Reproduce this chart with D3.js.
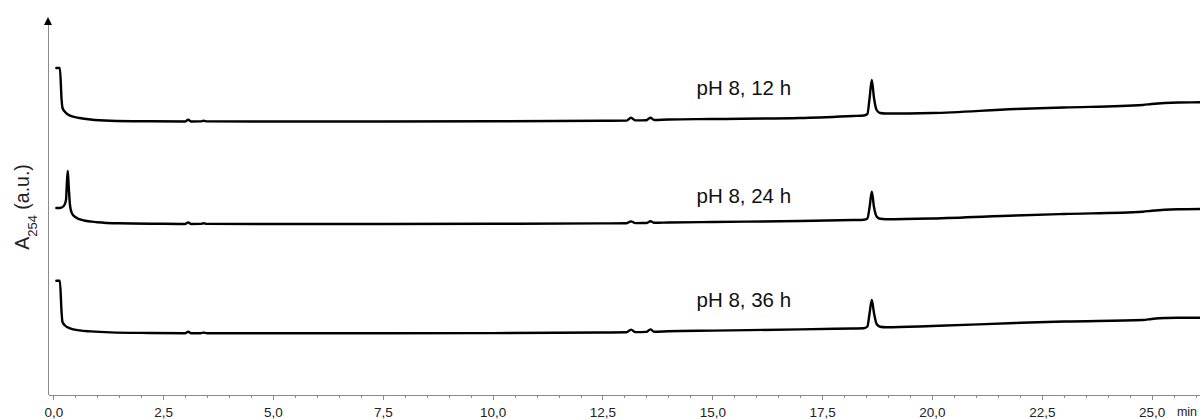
<!DOCTYPE html>
<meta charset="utf-8">
<style>
body { margin: 0; background: #fff; }
svg { font-family: "Liberation Sans", Arial, sans-serif; }
.trace { fill: none; stroke: #000; stroke-width: 2.4px; stroke-linejoin: round; stroke-linecap: round; }
.axis path, .axis line { stroke: #8a8a8a; stroke-width: 1px; shape-rendering: crispEdges; }
.axis text { fill: #222; font-size: 13.5px; }
</style>
<div id="chart"></div>
<script src="https://d3js.org/d3.v7.min.js"></script>
<script>

// retention time (min) and absorbance (a.u., arbitrary units) for each run
var t12 = [0.07, 0.15, 0.19, 0.21, 0.28, 0.38, 0.6, 0.85, 1.3, 2.2, 3.0, 3.07, 3.14, 3.35, 3.42, 3.5, 5.0, 7.5, 10.0, 12.5, 13.05, 13.15, 13.25, 13.5, 13.59, 13.68, 14.0, 15.0, 17.0, 18.2, 18.45, 18.53, 18.58, 18.63, 18.68, 18.74, 18.82, 18.95, 20.0, 21.9, 23.0, 24.8, 25.0, 25.3, 25.6, 26.1];
var a12 = [55, 55, 23, 15, 10.5, 7.3, 5, 3.5, 2.3, 1.7, 1.5, 3.3, 1.5, 1.6, 2.3, 1.6, 1.5, 1.5, 1.7, 2.2, 2.4, 5.2, 2.6, 2.8, 5.3, 3.0, 3.5, 4.0, 5.0, 7.0, 7.5, 9, 25, 43, 25, 13, 10, 9.5, 10, 14, 15.5, 18, 19, 20, 20.5, 20.7];

var t24 = [0.07, 0.15, 0.24, 0.29, 0.31, 0.33, 0.35, 0.38, 0.42, 0.5, 0.7, 1.0, 1.5, 2.5, 3.0, 3.07, 3.14, 3.35, 3.42, 3.5, 5.0, 7.5, 10.0, 12.5, 13.05, 13.15, 13.25, 13.5, 13.59, 13.68, 14.0, 15.0, 17.0, 18.2, 18.45, 18.53, 18.58, 18.63, 18.68, 18.74, 18.82, 18.95, 20.0, 21.9, 23.0, 24.8, 25.0, 25.3, 25.6, 26.1];
var a24 = [17, 17, 19, 25, 42, 54, 40, 20, 12, 8, 4.5, 2.8, 1.7, 1.2, 1.0, 2.6, 1.0, 1.1, 1.8, 1.1, 1.0, 1.0, 1.2, 1.6, 1.8, 3.6, 1.9, 2.0, 3.7, 2.2, 2.5, 3.0, 4.0, 5.0, 5.3, 6.5, 18, 33.3, 18, 8.5, 6.2, 5.8, 6.5, 9.5, 11, 13.3, 14.2, 15.2, 15.7, 16];

var t36 = [0.07, 0.15, 0.19, 0.21, 0.28, 0.38, 0.6, 0.85, 1.3, 2.2, 3.0, 3.07, 3.14, 3.35, 3.42, 3.5, 5.0, 7.5, 10.0, 12.5, 13.05, 13.15, 13.25, 13.5, 13.59, 13.68, 14.0, 15.0, 17.0, 18.2, 18.45, 18.53, 18.58, 18.63, 18.68, 18.74, 18.82, 18.95, 20.0, 21.9, 23.0, 24.8, 25.0, 25.3, 25.6, 26.1];
var a36 = [54.3, 54.3, 22, 13, 9, 6.7, 4.6, 3.6, 2.6, 2.0, 1.7, 3.3, 1.7, 1.8, 2.4, 1.8, 1.7, 1.7, 1.9, 2.5, 2.7, 5.4, 2.9, 3.1, 5.6, 3.3, 3.8, 4.4, 5.6, 6.5, 6.7, 8.5, 22, 35, 22, 11, 8.3, 7.8, 9, 12, 13.5, 15, 16, 17, 17.2, 17.3];

// vertical stacking offset of each chromatogram and its label
var runs = ["pH 8, 12 h", "pH 8, 24 h", "pH 8, 36 h"];
var offsets = [272, 170, 60];
var labelTime = 14.64;
var labelLift = [28, 22, 28];

var xTicks = d3.range(0, 25.01, 2.5);
var xMinor = d3.range(0, 26.01, 0.5);

var width = 1200, height = 419;

var x = d3.scaleLinear().domain([-0.12, 26.1]).range([48, 1200]);
var y = d3.scaleLinear().domain([0, 378]).range([395, 17]);

var svg = d3.select("#chart").append("svg")
  .attr("width", width)
  .attr("height", height);

var comma = d3.formatLocale({decimal: ",", thousands: ".", grouping: [3], currency: ["", ""]}).format(".1f");

// minor ticks
svg.append("g")
  .attr("class", "x axis")
  .attr("transform", "translate(0," + y(0) + ")")
  .call(d3.axisBottom(x).tickValues(xMinor).tickSize(3).tickFormat(""))
  .call(function(g) { g.select(".domain").remove(); });

// major ticks + axis line
svg.append("g")
  .attr("class", "x axis")
  .attr("transform", "translate(0," + y(0) + ")")
  .call(d3.axisBottom(x).tickValues(xTicks).tickSize(5).tickSizeOuter(0).tickPadding(7).tickFormat(comma));

svg.append("text")
  .attr("x", 1187)
  .attr("y", 416)
  .attr("text-anchor", "middle")
  .style("font-size", "12.5px")
  .style("fill", "#222")
  .text("min");

// y axis with arrow
svg.append("line")
  .attr("x1", x(-0.12)).attr("x2", x(-0.12))
  .attr("y1", y(0)).attr("y2", y(370))
  .attr("stroke", "#8a8a8a")
  .attr("shape-rendering", "crispEdges");

svg.append("path")
  .attr("d", "M" + (x(-0.12) - 4) + "," + y(370) + "L" + x(-0.12) + "," + y(378) + "L" + (x(-0.12) + 4) + "," + y(370) + "Z")
  .attr("fill", "#000");

var ylab = svg.append("text")
  .attr("transform", "translate(29,207) rotate(-90)")
  .attr("text-anchor", "middle")
  .style("font-size", "19.5px")
  .style("fill", "#222");
ylab.append("tspan").text("A");
ylab.append("tspan").attr("baseline-shift", "sub").style("font-size", "13px").text("254");
ylab.append("tspan").text(" (a.u.)");

var line = d3.line()
  .curve(d3.curveMonotoneX)
  .x(function(d) { return x(d[0]); })
  .y(function(d) { return y(d[1]); });

var series = [[t12, a12], [t24, a24], [t36, a36]];

series.forEach(function(s, i) {
  var pts = s[0].map(function(t, j) { return [t, s[1][j] + offsets[i]]; });
  svg.append("path")
    .attr("class", "trace")
    .attr("d", line(pts));

  svg.append("text")
    .attr("x", x(labelTime))
    .attr("y", y(offsets[i] + labelLift[i]))
    .style("font-size", "20.5px")
    .style("fill", "#111")
    .text(runs[i]);
});

</script>
